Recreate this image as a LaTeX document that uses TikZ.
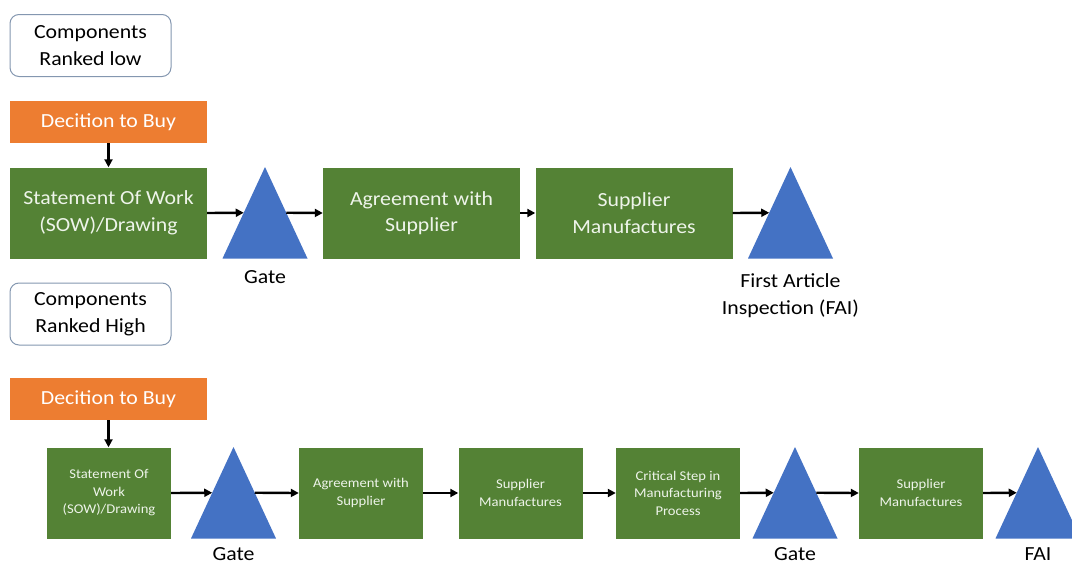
\documentclass[tikz,border=0pt]{standalone}
\usepackage{fontspec}
\setmainfont{Carlito}[FakeStretch=1.09]
\usetikzlibrary{arrows.meta}
\definecolor{stepgreen}{HTML}{548235}
\definecolor{buyorange}{HTML}{ED7D31}
\definecolor{gateblue}{HTML}{4472C4}
\definecolor{rankedge}{HTML}{8497B0}
\definecolor{steptext}{HTML}{EEF4EA}

% blue gate triangle: name, apex x, apex y; defines side midpoints (name)w, (name)e
\newcommand{\gateshape}[3]{%
  \fill[gatefill] (#2-42.5,#3+91.5) -- (#2,#3) -- (#2+42.5,#3+91.5) -- cycle;
  \coordinate (#1w) at (#2-21.25,#3+45.75);
  \coordinate (#1e) at (#2+21.25,#3+45.75);}

\begin{document}
\begin{tikzpicture}[x=1pt,y=-1pt,
  rankbox/.style={draw=rankedge, line width=1pt, rounded corners=9pt, fill=white,
    align=center, font=\fontsize{20}{26.5}\selectfont, inner sep=0pt,
    minimum width=161pt, minimum height=62pt},
  buybox/.style={fill=buyorange, text=white, font=\fontsize{20}{26}\selectfont,
    inner sep=0pt, minimum width=197pt, minimum height=42pt},
  bigstep/.style={fill=stepgreen, text=steptext, align=center,
    font=\fontsize{20}{26.5}\selectfont, inner sep=0pt,
    minimum width=197pt, minimum height=91pt},
  smallstep/.style={fill=stepgreen, text=steptext, align=center,
    font=\fontsize{13.4}{17.5}\selectfont, inner sep=0pt,
    minimum width=124pt, minimum height=91pt},
  gatefill/.style={fill=gateblue},
  gatelabel/.style={align=center, font=\fontsize{20}{27}\selectfont, inner sep=0pt},
  flow/.style={-{Triangle[length=8pt,width=8pt]}, line width=2.4pt}
]
\useasboundingbox (0,0) rectangle (1072,565);

% ---------- low-ranked components ----------
\node[rankbox] (rank1) at (90.5,45.5) {Components\\Ranked low};
\node[buybox] (buy1) at (108.5,122) {Decition to Buy};
\node[bigstep] (sow1) at (108.5,213) {Statement Of Work\\(SOW)/Drawing};
\gateshape{g1}{265}{167}
\node[gatelabel] (g1lab) at (265,277) {Gate};
\node[bigstep] (agr1) at (421.5,213) {Agreement with\\Supplier};
\node[bigstep] (sup1) at (634,213) {Supplier\\Manufactures};
\gateshape{g2}{790.5}{167}
\node[gatelabel] (g2lab) at (790.5,295.5) {First Article\\Inspection (FAI)};

\draw[flow] (buy1) -- (sow1);
\draw[flow] (sow1.east) -- (g1w);
\draw[flow] (g1e) -- (agr1.west);
\draw[flow] (agr1) -- (sup1);
\draw[flow] (sup1.east) -- (g2w);

% ---------- high-ranked components ----------
\node[rankbox] (rank2) at (90.5,314) {Components\\Ranked High};
\node[buybox] (buy2) at (108.5,399) {Decition to Buy};
\node[smallstep] (sow2) at (109,493) {Statement Of\\Work\\(SOW)/Drawing};
\gateshape{g3}{233.5}{447}
\node[gatelabel] (g3lab) at (233.5,554) {Gate};
\node[smallstep] (agr2) at (361,493) {Agreement with\\Supplier};
\node[smallstep] (sup2) at (520.5,493) {Supplier\\Manufactures};
\node[smallstep] (crit) at (678,493) {Critical Step in\\Manufacturing\\Process};
\gateshape{g4}{795}{447}
\node[gatelabel] (g4lab) at (795,554) {Gate};
\node[smallstep] (sup3) at (921,493) {Supplier\\Manufactures};
\gateshape{g5}{1038}{447}
\node[gatelabel] (g5lab) at (1038,554) {FAI};

\draw[flow] (buy2) -- (sow2.north -| buy2);
\draw[flow] (sow2.east) -- (g3w);
\draw[flow] (g3e) -- (agr2.west);
\draw[flow] (agr2) -- (sup2);
\draw[flow] (sup2) -- (crit);
\draw[flow] (crit.east) -- (g4w);
\draw[flow] (g4e) -- (sup3.west);
\draw[flow] (sup3.east) -- (g5w);
\end{tikzpicture}
\end{document}
